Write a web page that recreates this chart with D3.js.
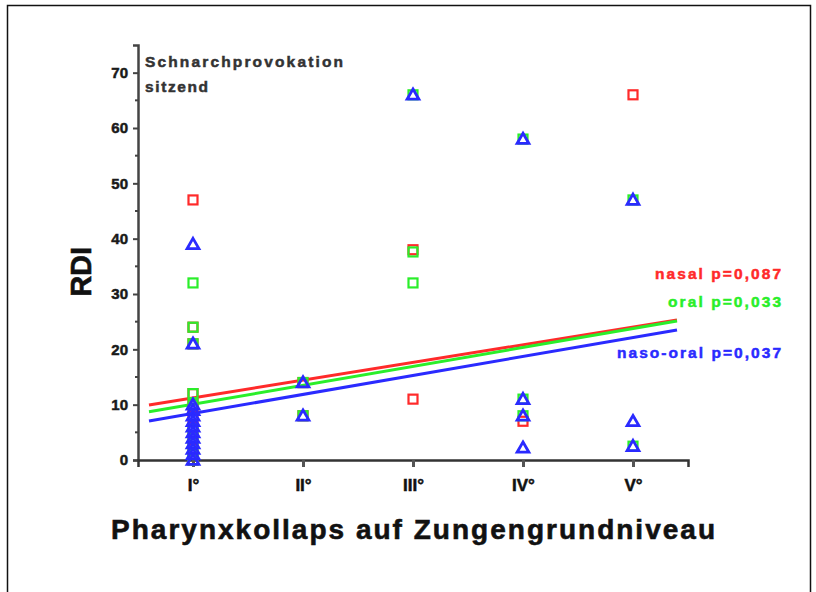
<!DOCTYPE html>
<html>
<head>
<meta charset="utf-8">
<script src="https://cdn.jsdelivr.net/npm/d3@7"></script>
<style>
  html, body { margin: 0; padding: 0; background: #fff; }
  svg { display: block; font-family: "Liberation Sans", Arial, sans-serif; }
</style>
</head>
<body>
<svg id="chart" width="816" height="592"></svg>
<script>
// Pharyngeal collapse grade at tongue-base level vs. RDI (snoring provocation, sitting)
const grades = ["I°", "II°", "III°", "IV°", "V°"];
const yTicks = [0, 10, 20, 30, 40, 50, 60, 70];

// [grade index (1-based), RDI]
const nasalPoints = [
  [1, 47], [1, 24], [1, 21], [1, 12], [1, 10], [1, 8], [1, 6], [1, 4], [1, 2], [1, 0],
  [2, 14], [2, 8],
  [3, 38], [3, 11],
  [4, 7],
  [5, 66]
];
const oralPoints = [
  [1, 32], [1, 24], [1, 21], [1, 12], [1, 10], [1, 5.5], [1, 3], [1, 1], [1, 0],
  [2, 14], [2, 8],
  [3, 66], [3, 37.6], [3, 32],
  [4, 58], [4, 11], [4, 8],
  [5, 47], [5, 2.5]
];
const nasoOralPoints = [
  [1, 39], [1, 21], [1, 10], [1, 9], [1, 8], [1, 7], [1, 6], [1, 5], [1, 4], [1, 3], [1, 2], [1, 1], [1, 0],
  [2, 14], [2, 8],
  [3, 66],
  [4, 58], [4, 11], [4, 8], [4, 2.2],
  [5, 47], [5, 7], [5, 2.5]
];

// linear fits: RDI = intercept + slope * grade
const fitNames = ["nasal p=0,087", "oral p=0,033", "naso-oral p=0,037"];
const fitIntercepts = [8.03, 6.65, 4.99];
const fitSlopes = [3.20, 3.42, 3.43];
const fitRange = [0.6, 5.4];

const colors = ["#ff2a2a", "#2aee2a", "#2a2aff"];

const svg = d3.select("#chart");

// outer frame
svg.append("rect")
  .attr("x", 7.5).attr("y", 5.5).attr("width", 803).attr("height", 600)
  .attr("fill", "none").attr("stroke", "#111").attr("stroke-width", 1.5);

const x = d3.scaleLinear().domain([0.5, 5.5]).range([138, 688]);
const y = d3.scaleLinear().domain([0, 75]).range([460, 45]);

// y axis
const yAxis = d3.axisLeft(y).tickValues(yTicks).tickSize(5).tickPadding(5).tickFormat(d3.format("d"));
const gy = svg.append("g").attr("transform", `translate(${x(0.5)},0)`).call(yAxis);
gy.select(".domain").attr("stroke", "#444").attr("stroke-width", 2.5);
gy.selectAll(".tick line").attr("stroke", "#444").attr("stroke-width", 2);
gy.selectAll(".tick text").attr("font-size", 15).attr("font-weight", "bold").attr("fill", "#1a1a1a")
  .attr("stroke", "#1a1a1a").attr("stroke-width", 0.5);
// minor ticks
gy.selectAll(".minor").data(d3.range(5, 75, 10)).enter().append("line")
  .attr("x1", 0).attr("x2", -3).attr("y1", d => y(d)).attr("y2", d => y(d))
  .attr("stroke", "#444").attr("stroke-width", 2);

// x axis
const xAxis = d3.axisBottom(x).tickValues([1, 2, 3, 4, 5]).tickSize(7).tickPadding(12)
  .tickFormat(d => grades[d - 1]);
const gx = svg.append("g").attr("transform", `translate(0,${y(0)})`).call(xAxis);
gx.select(".domain").attr("stroke", "#333").attr("stroke-width", 2.5);
gx.selectAll(".tick line").attr("stroke", "#555").attr("stroke-width", 3);
gx.selectAll(".tick text").attr("font-size", 17).attr("font-weight", "bold").attr("fill", "#111")
  .attr("stroke", "#111").attr("stroke-width", 0.5);

// axis titles
svg.append("text")
  .attr("transform", `translate(91,${y(34)}) rotate(-90)`)
  .attr("text-anchor", "middle")
  .attr("font-size", 29).attr("font-weight", "bold").attr("fill", "#111")
  .attr("stroke", "#111").attr("stroke-width", 0.6)
  .text("RDI");

svg.append("text")
  .attr("x", 413).attr("y", 539)
  .attr("text-anchor", "middle")
  .attr("font-size", 28).attr("font-weight", "bold").attr("fill", "#111")
  .attr("stroke", "#111").attr("stroke-width", 0.6)
  .attr("textLength", 604).attr("lengthAdjust", "spacing")
  .text("Pharynxkollaps auf Zungengrundniveau");

// condition label
const cond = svg.append("text").attr("font-size", 15.5).attr("font-weight", "bold").attr("fill", "#333")
  .attr("stroke", "#333").attr("stroke-width", 0.5);
cond.append("tspan").attr("x", 145).attr("y", 67).attr("textLength", 198).attr("lengthAdjust", "spacing").text("Schnarchprovokation");
cond.append("tspan").attr("x", 145).attr("y", 92).attr("textLength", 63).attr("lengthAdjust", "spacing").text("sitzend");

// fit lines
const fitG = svg.append("g");
fitIntercepts.forEach((a, i) => {
  fitG.append("line")
    .attr("x1", x(fitRange[0])).attr("y1", y(a + fitSlopes[i] * fitRange[0]))
    .attr("x2", x(fitRange[1])).attr("y2", y(a + fitSlopes[i] * fitRange[1]))
    .attr("stroke", colors[i]).attr("stroke-width", 3);
});

// markers
const sq = 9;
function squares(points, color) {
  svg.append("g").selectAll("rect").data(points).enter().append("rect")
    .attr("x", d => x(d[0]) - sq / 2).attr("y", d => y(d[1]) - sq / 2)
    .attr("width", sq).attr("height", sq)
    .attr("fill", "none").attr("stroke", color).attr("stroke-width", 2.2);
}
squares(nasalPoints, colors[0]);
squares(oralPoints, colors[1]);

const tri = d3.symbol().type(d3.symbolTriangle).size(60);
svg.append("g").selectAll("path").data(nasoOralPoints).enter().append("path")
  .attr("d", tri)
  .attr("transform", d => `translate(${x(d[0])},${y(d[1]) + 1})`)
  .attr("fill", "none").attr("stroke", colors[2]).attr("stroke-width", 2.8);

// fit labels
const labelY = [279, 307, 358];
const labelW = [126, 113, 164];
fitNames.forEach((t, i) => {
  svg.append("text")
    .attr("x", 781 - labelW[i]).attr("y", labelY[i])
    .attr("font-size", 15.5).attr("font-weight", "bold").attr("fill", colors[i])
    .attr("stroke", colors[i]).attr("stroke-width", 0.5)
    .attr("textLength", labelW[i]).attr("lengthAdjust", "spacing")
    .text(t);
});
</script>
</body>
</html>
